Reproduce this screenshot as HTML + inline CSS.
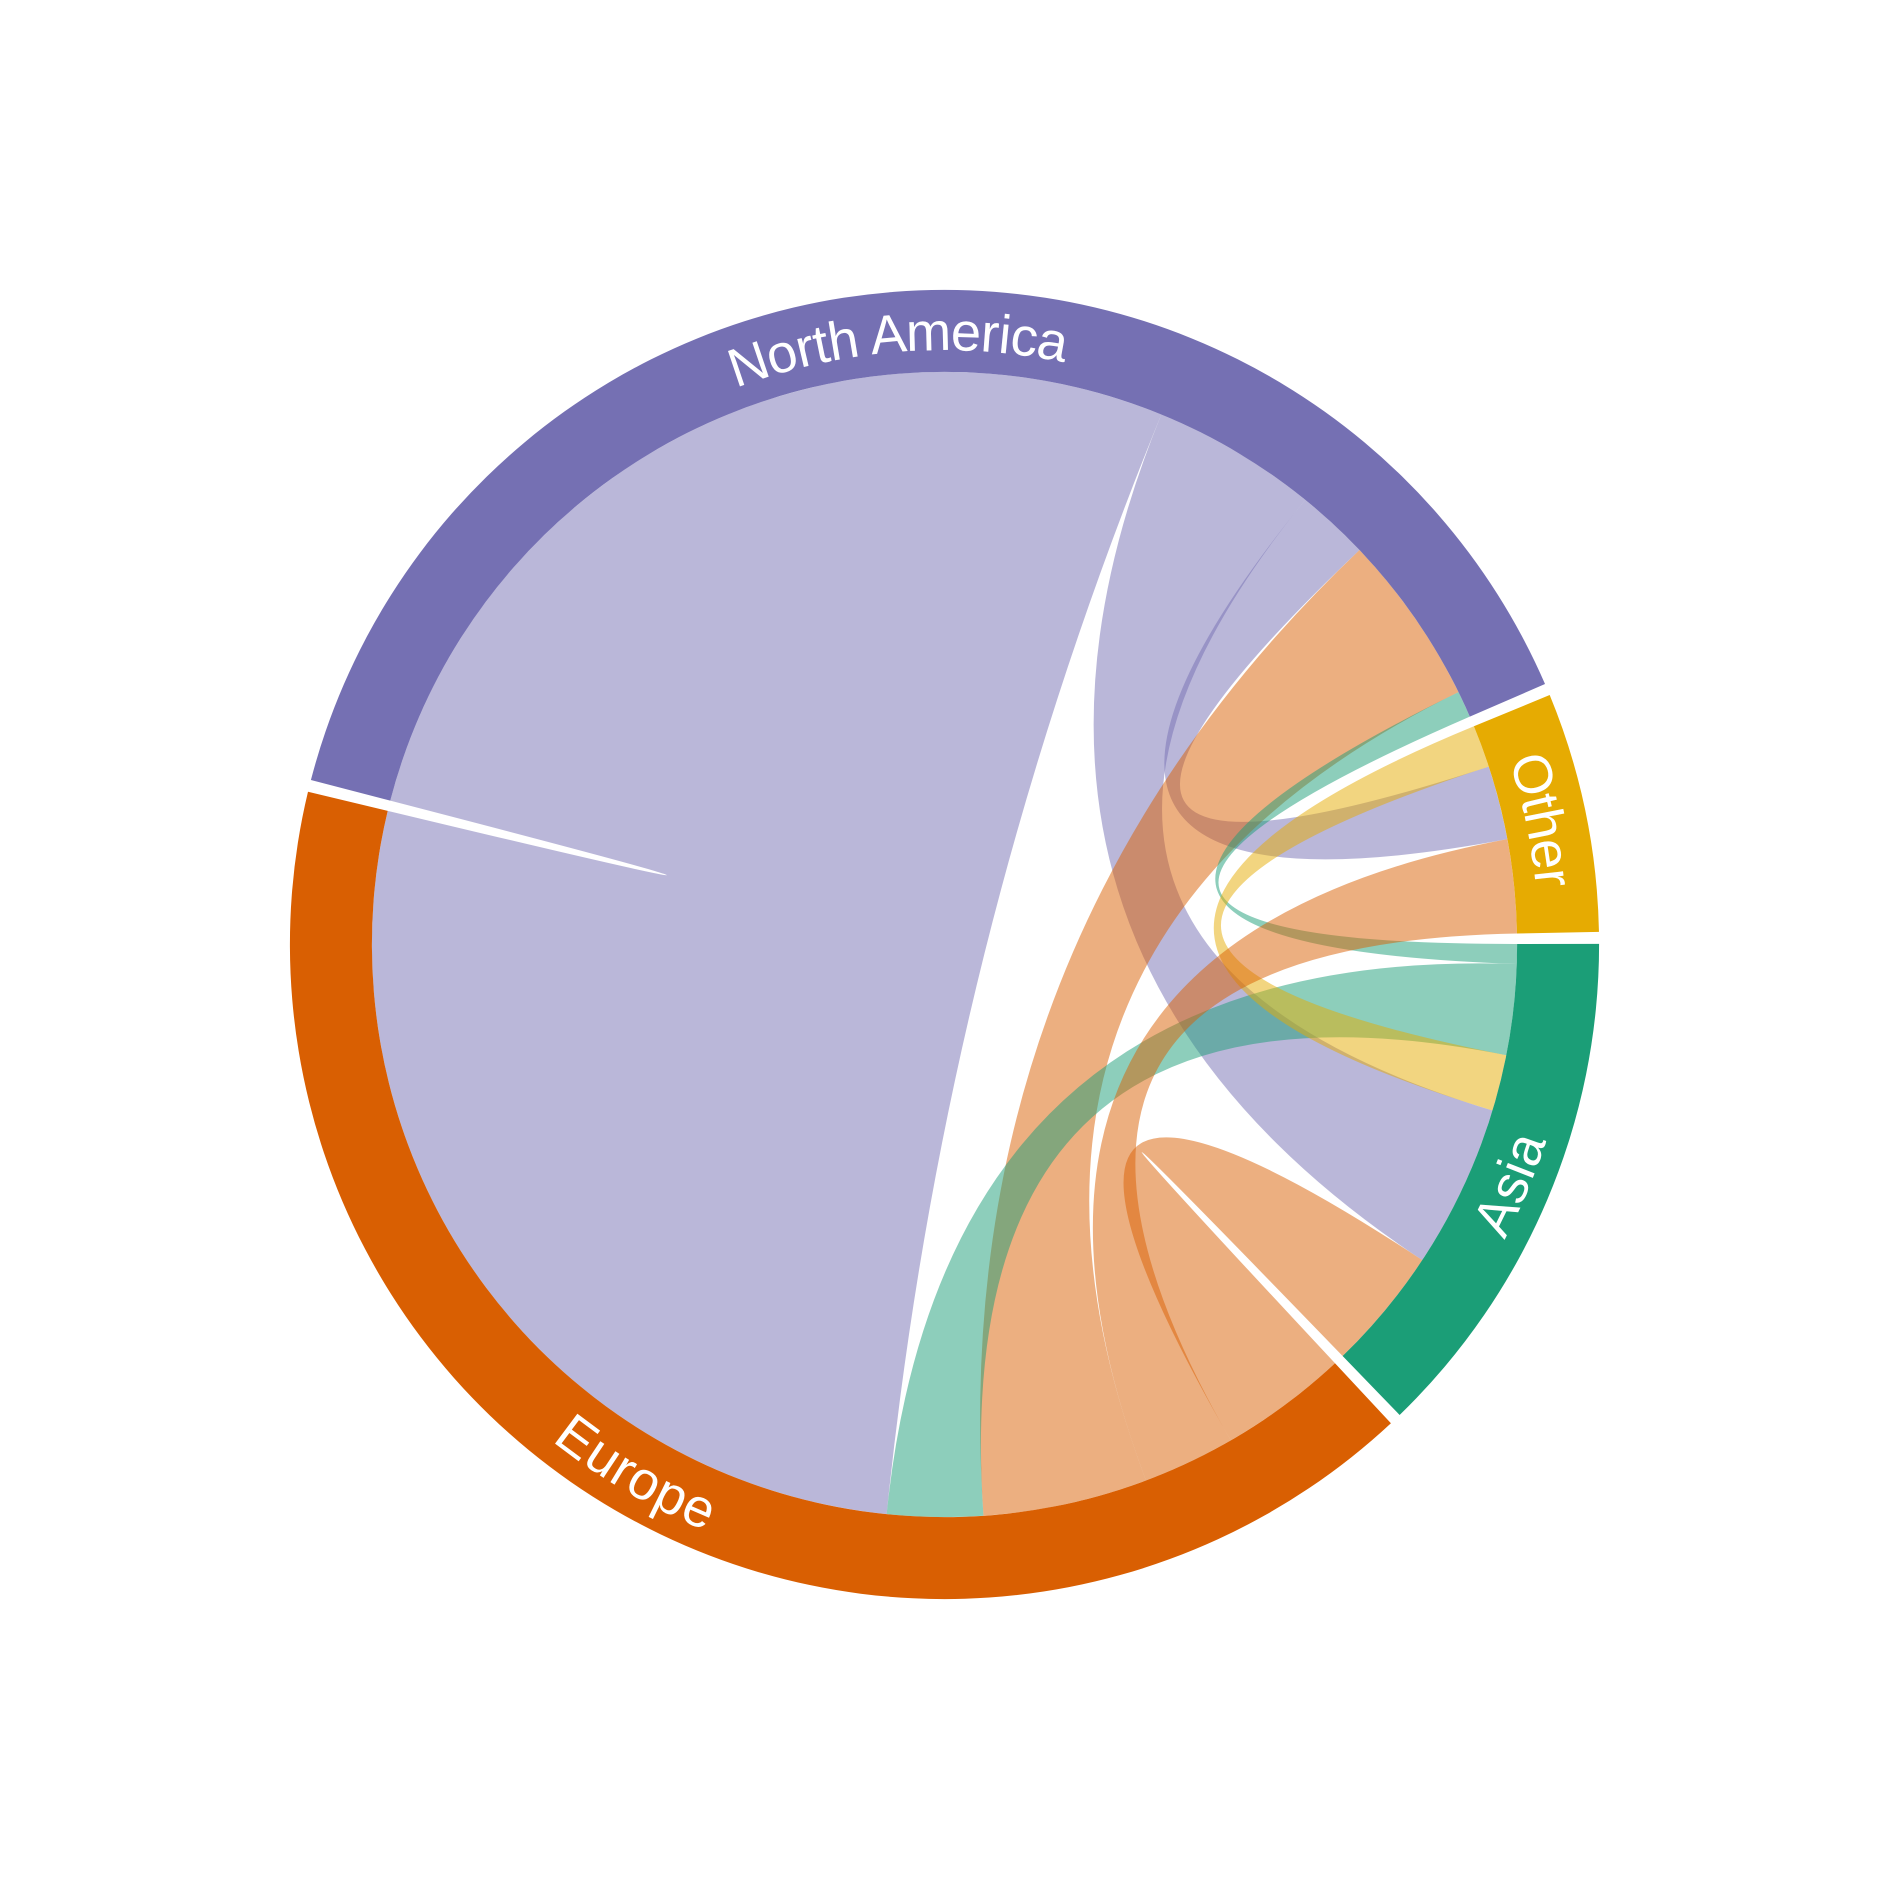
<!DOCTYPE html>
<html><head><meta charset="utf-8"><style>
html,body{margin:0;padding:0;background:#fff;}
svg{display:block;}
text{font-family:"Liberation Sans",sans-serif;fill:#fff;text-rendering:geometricPrecision;}
</style></head><body>
<svg id="chart" width="1889" height="1889" viewBox="0 0 1567 1567" xmlns="http://www.w3.org/2000/svg">
<defs id="defs"></defs>
<g id="ribbons"></g>
<g id="arcs"></g>
<g id="labels"></g>
</svg>
<script>
// Regions (clockwise from start angle)
const regions = ["Europe", "North America", "Other", "Asia"];
const regionColors = ["#d95f02", "#7570b3", "#e6ab02", "#1b9e77"];
// Chords: source region index, target region index, source value, target value
const chordSource = [1, 1, 1, 0, 3, 3, 2, 0, 0];
const chordTarget = [0, 3, 2, 1, 1, 0, 3, 3, 2];
const chordSourceValue = [97.7, 16.8, 7.4, 16.7, 2.0, 9.2, 4.3, 13.0, 9.4];
const chordTargetValue = [97.7, 16.6, 7.5, 17.4, 2.7, 9.7, 5.7, 12.5, 9.5];
// Ordering of chord ends around each region (clockwise)
const regionOrder = [[7, 8, 3, 5, 0], [0, 1, 2, 3, 4], [6, 2, 8], [4, 5, 6, 1, 7]];

const NS = "http://www.w3.org/2000/svg";
const cx = 783.5, cy = 783.5, rOuter = 543, rInner = 475, rLabel = 509;
const startAngle = 47;

const totals = regionOrder.map((ord, r) => ord.reduce((s, ci) => s + (chordSource[ci] === r ? chordSourceValue[ci] : chordTargetValue[ci]), 0));
const sumAll = totals.reduce((a, b) => a + b, 0);
const gap = (360 - sumAll) / regions.length;

const rad = d => d * Math.PI / 180;
const pt = (a, r) => [cx + r * Math.cos(rad(a)), cy + r * Math.sin(rad(a))];

const regionStart = [], ends = {};
let a = startAngle;
regions.forEach((name, r) => {
  regionStart.push(a);
  let b = a;
  regionOrder[r].forEach(ci => {
    const v = chordSource[ci] === r ? chordSourceValue[ci] : chordTargetValue[ci];
    ends[ci + "_" + r] = [b, b + v];
    b += v;
  });
  a = b + gap;
});

const defs = document.getElementById("defs");
const arcsG = document.getElementById("arcs");
regions.forEach((name, r) => {
  const s = regionStart[r], e = s + totals[r];
  const p1 = pt(s, rOuter), p2 = pt(e, rOuter), p3 = pt(e, rInner), p4 = pt(s, rInner);
  const large = (e - s) > 180 ? 1 : 0;
  const path = document.createElementNS(NS, "path");
  path.setAttribute("d", `M${p1}A${rOuter},${rOuter} 0 ${large} 1 ${p2}L${p3}A${rInner},${rInner} 0 ${large} 0 ${p4}Z`);
  path.setAttribute("fill", regionColors[r]);
  
  
  arcsG.appendChild(path);

  const mid = (s + totals[r] / 2) % 360;
  const bottom = mid > 0 && mid < 180;
  const lp = document.createElementNS(NS, "path");
  const id = "lp" + r;
  lp.setAttribute("id", id);
  const q0 = pt(mid - 90, rLabel), q1 = pt(mid + 90, rLabel);
  lp.setAttribute("d", bottom ? `M${q1}A${rLabel},${rLabel} 0 0 0 ${q0}` : `M${q0}A${rLabel},${rLabel} 0 0 1 ${q1}`);
  defs.appendChild(lp);
  const t = document.createElementNS(NS, "text");
  t.setAttribute("font-size", "45");
  t.setAttribute("dominant-baseline", "central");
  
  
  const tp = document.createElementNS(NS, "textPath");
  tp.setAttribute("href", "#" + id);
  tp.setAttribute("startOffset", "50%");
  tp.setAttribute("text-anchor", "middle");
  tp.textContent = name;
  t.appendChild(tp);
  document.getElementById("labels").appendChild(t);
});

const ribG = document.getElementById("ribbons");
chordSource.forEach((src, ci) => {
  const tgt = chordTarget[ci];
  const [s0, s1] = ends[ci + "_" + src];
  const [t0, t1] = ends[ci + "_" + tgt];
  const r = rInner;
  const a0 = pt(s0, r), a1 = pt(s1, r), b0 = pt(t0, r), b1 = pt(t1, r);
  const la = (s1 - s0) > 180 ? 1 : 0, lb = (t1 - t0) > 180 ? 1 : 0;
  const d = `M${a0}A${r},${r} 0 ${la} 1 ${a1}Q${cx},${cy} ${b0}A${r},${r} 0 ${lb} 1 ${b1}Q${cx},${cy} ${a0}Z`;
  const p = document.createElementNS(NS, "path");
  p.setAttribute("d", d);
  p.setAttribute("fill", regionColors[src]);
  p.setAttribute("fill-opacity", "0.5");
  
  
  ribG.appendChild(p);
});
</script>
</body></html>
